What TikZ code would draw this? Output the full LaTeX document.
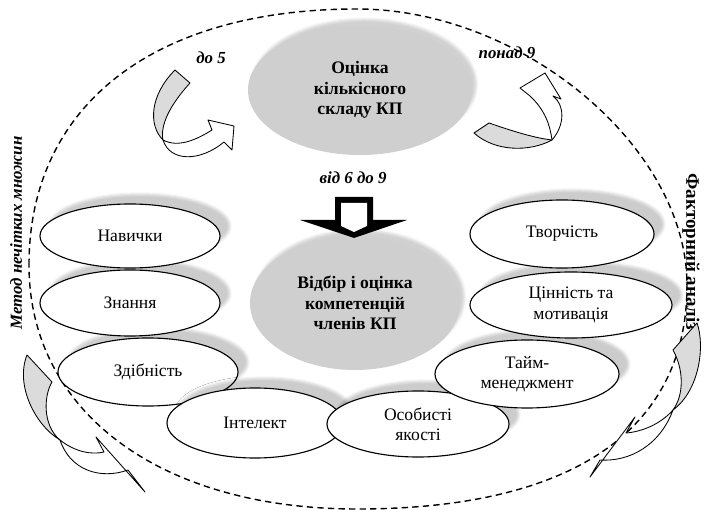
\documentclass[tikz,border=0pt]{standalone}
\usepackage{fontspec}
\setmainfont{Liberation Serif}
\usetikzlibrary{shapes.geometric,shadows.blur}
\tikzset{
  item/.style={draw, ellipse, thick, fill=white, align=center, inner sep=0pt,
      font=\fontsize{12.5}{14.5}\selectfont,
      blur shadow={shadow xshift=7pt, shadow yshift=7pt, shadow opacity=20}},
  blob/.style={ellipse, fill=gray!38, align=center, inner sep=0pt,
      font=\bfseries\fontsize{12.5}{14.5}\selectfont,
      blur shadow={shadow xshift=3pt, shadow yshift=4pt, shadow opacity=18}},
  tag/.style={font=\bfseries\itshape\fontsize{12}{14}\selectfont},
  back/.style={draw, line width=0.6pt, line join=round, fill=gray!28},
  front/.style={draw, line width=0.6pt, line join=round, fill=white}
}
% twisted ribbon arrows (pixel units): gray back part, white front part
\newcommand\curlTLback{(175,70) -- (190,83) .. controls (170,105) and (160,125) .. (163,140) .. controls (148,125) and (150,95) .. (175,70) -- cycle}
\newcommand\curlTLfront{(163,140) .. controls (178,148) and (196,140) .. (212,130) -- (208,120) -- (234,126) -- (232,150) -- (224,142) .. controls (200,162) and (170,162) .. (163,140) -- cycle}
\newcommand\curlTRback{(474,133) -- (489,123) .. controls (515,132) and (535,138) .. (552,140) .. controls (530,152) and (495,152) .. (474,133) -- cycle}
\newcommand\curlTRfront{(552,140) .. controls (565,125) and (565,105) .. (553,96) -- (561,99) -- (545,73) -- (520,88) -- (530,96) .. controls (545,110) and (550,125) .. (552,140) -- cycle}
\newcommand\curlBLback{(27,355) -- (52,382) .. controls (44,395) and (42,425) .. (60,440) .. controls (35,425) and (15,385) .. (27,355) -- cycle}
\newcommand\curlBLfront{(60,440) .. controls (75,452) and (92,455) .. (104,452) -- (96,437) -- (145,492) -- (128,470) .. controls (100,480) and (70,470) .. (60,440) -- cycle}
\newcommand\curlBRback{(697,323) -- (673,350) .. controls (684,370) and (684,395) .. (673,410) .. controls (700,390) and (705,345) .. (697,323) -- cycle}
\newcommand\curlBRfront{(673,410) .. controls (660,425) and (640,432) .. (626,433) -- (635,417) -- (590,477) -- (600,460) .. controls (630,462) and (660,445) .. (673,410) -- cycle}
\begin{document}
\begin{tikzpicture}[x=0.025cm, y=-0.025cm]
  \useasboundingbox (0,0) rectangle (704,510);

  % outer dashed oval
  \draw[line width=1pt, dash pattern=on 4.5pt off 3pt]
      (29,265) .. controls (29,106) and (153,9) .. (357,9)
      .. controls (522,9) and (687,147) .. (687,285)
      .. controls (687,431) and (571,509) .. (357,509)
      .. controls (159,509) and (29,411) .. (29,265) -- cycle;

  % central blocks
  \node[blob, minimum width=5.6cm, minimum height=3.25cm] (otsinka) at (360,90)
        {Оцінка\\кількісного\\складу КП};
  \node[blob, minimum width=5.25cm, minimum height=3.35cm] (vidbir) at (355,303)
        {Відбір і оцінка\\компетенцій\\членів КП};

  \node[tag] (vid) at (353,178) {від 6 до 9};
  \node[tag] (do) at (211,58) {до 5};
  \node[tag] (ponad) at (507,53) {понад 9};

  % block arrow
  \coordinate (gate) at (354,215);
  \begin{scope}[shift={(gate)}]
    \fill (-19,-18) -- (19,-18) -- (19,5) -- (53,5) -- (0,23) -- (-54,5) -- (-19,5) -- cycle;
    \fill[white] (-13,-12) -- (13,-12) -- (13,11) -- (0,17) -- (-13,11) -- cycle;
  \end{scope}

  % competences, left
  \node[item, minimum width=4.5cm, minimum height=1.7cm] (zdibnist) at (148,372) {Здібність};
  \node[item, minimum width=4.5cm, minimum height=1.65cm] (znannia) at (130,303) {Знання};
  \node[item, minimum width=4.5cm, minimum height=1.6cm] (navychky) at (130,236) {Навички};
  \node[item, minimum width=4.4cm, minimum height=1.75cm] (intelekt) at (255,423) {Інтелект};
  \node[item, minimum width=4.55cm, minimum height=1.65cm] (osobysti) at (418,424) {Особисті\\якості};
  % competences, right
  \node[item, minimum width=4.6cm, minimum height=1.7cm] (taim) at (527,374) {Тайм-\\менеджмент};
  \node[item, minimum width=5.05cm, minimum height=1.65cm] (tsinnist) at (571,305) {Цінність та\\мотивація};
  \node[item, minimum width=4.6cm, minimum height=1.7cm] (tvorchist) at (562,234) {Творчість};

  % side methods
  \node[tag, rotate=90] (metod) at (16,233) {Метод нечітких множин};
  \node[font=\bfseries\fontsize{13.5}{16}\selectfont, rotate=-90] (faktor) at (691,252) {Факторний аналіз};

  % curled arrows
  \draw[back] \curlTLback;  \draw[front] \curlTLfront;
  \draw[back] \curlTRback;  \draw[front] \curlTRfront;
  \draw[back] \curlBLback;  \draw[front] \curlBLfront;
  \draw[back] \curlBRback;  \draw[front] \curlBRfront;
\end{tikzpicture}
\end{document}
